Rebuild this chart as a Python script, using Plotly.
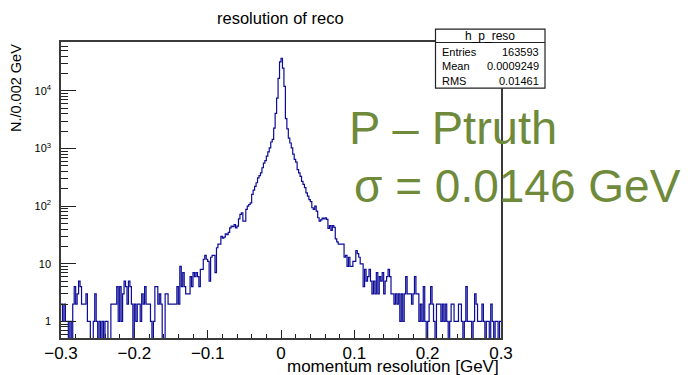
import numpy as np
import plotly.graph_objects as go

# ---------------- data (counts per 0.002 GeV bin, -0.3 .. 0.3) ----------------
x_min, x_max, bin_width = -0.3, 0.3, 0.002

counts_left = [  # bins 0-119  (-0.300 .. -0.062)
    2, 1, 2, 1, 1, 0, 1, 0, 2, 4, 2, 3, 5, 4, 2, 2, 2, 3, 1, 1,
    0, 0, 1, 3, 1, 0, 1, 0, 1, 0, 1, 1, 0, 0, 2, 2, 2, 2, 4, 1,
    4, 1, 3, 5, 4, 2, 5, 4, 2, 0, 2, 1, 2, 2, 1, 3, 2, 4, 2, 2,
    2, 1, 0, 1, 4, 4, 2, 3, 2, 0, 0, 3, 3, 2, 2, 2, 2, 2, 2, 4,
    2, 9, 4, 7, 4, 3, 3, 3, 6, 4, 7, 6, 7, 6, 4, 8, 8, 12, 14, 12,
    11, 5, 13, 14, 14, 7, 19, 22, 22, 30, 28, 29, 33, 32, 35, 42, 45, 44, 48, 42,
]
counts_core = [  # bins 120-179  (-0.060 .. 0.058)
    45, 60, 72, 77, 55, 55, 88, 100, 107, 114,
    160, 190, 220, 255, 310, 340, 380, 465, 560, 620,
    740, 880, 1030, 1300, 1450, 2260, 4100, 7500, 16500, 32000,
    37000, 25000, 12000, 3300, 2200, 1520, 1250, 1030, 800, 650,
    580, 430, 380, 330, 270, 240, 210, 170, 150, 130,
    120, 94, 88, 100, 82, 63, 55, 58, 62, 60,
]
counts_right = [  # bins 180-299  (0.060 .. 0.298)
    63, 59, 41, 46, 38, 46, 43, 27, 24, 22, 22, 22, 22, 13, 14, 9, 13, 9, 9, 11,
    11, 17, 15, 13, 10, 10, 4, 8, 5, 6, 8, 5, 3, 5, 3, 7, 3, 6, 5, 7,
    3, 5, 6, 8, 6, 3, 3, 2, 3, 2, 3, 1, 3, 1, 3, 6, 3, 3, 3, 2,
    3, 6, 3, 3, 1, 2, 1, 4, 1, 0, 1, 2, 4, 2, 1, 0, 2, 2, 2, 1,
    2, 1, 2, 1, 0, 1, 2, 2, 1, 1, 1, 2, 2, 1, 0, 1, 4, 1, 1, 1,
    0, 1, 3, 2, 1, 1, 1, 2, 1, 0, 1, 1, 0, 2, 1, 0, 1, 1, 0, 1,
]

y_tick_vals = [1, 10, 100, 1000, 10000]
y_tick_text = ["1", "10", "10<sup>2</sup>", "10<sup>3</sup>", "10<sup>4</sup>"]
x_tick_vals = [-0.3, -0.2, -0.1, 0, 0.1, 0.2, 0.3]
x_tick_text = ["\u22120.3", "\u22120.2", "\u22120.1", "0", "0.1", "0.2", "0.3"]

stats_name = "h_p_reso"
stats_rows = [("Entries", "163593"), ("Mean", "0.0009249"), ("RMS", "0.01461")]

# ---------------- build step outline ----------------
counts = np.array(counts_left + counts_core + counts_right, dtype=float)
edges = x_min + bin_width * np.arange(len(counts) + 1)
disp = np.where(counts > 0, counts, 1e-2)       # empty bins drop below the frame
step_x = edges
step_y = np.append(disp, disp[-1])

W, H = 693, 375
L, R, T, B = 61, 501, 42, 340          # plot frame in pixels
FONT = "Liberation Sans, Arial, Helvetica, sans-serif"


def px(xp):
    return (xp - L) / (R - L)


def py(yp):
    return (B - yp) / (B - T)


fig = go.Figure()
fig.add_trace(go.Scatter(
    x=step_x, y=step_y, mode="lines", line_shape="hv",
    line=dict(color="#0c0c98", width=1.2), hoverinfo="skip", showlegend=False,
))

minor_vals = [m * 10 ** d for d in range(-1, 5) for m in range(2, 10)]

fig.update_layout(
    width=W, height=H, autosize=False,
    margin=dict(l=L, r=W - R, t=T, b=H - B, pad=0),
    paper_bgcolor="white", plot_bgcolor="white",
    font=dict(family=FONT, color="black"),
    showlegend=False,
    xaxis=dict(
        range=[x_min, x_max], showgrid=False, zeroline=False,
        showline=True, mirror=True, linecolor="#3a3a3a", linewidth=1.5,
        ticks="inside", ticklen=8, tickwidth=1.2, tickcolor="#222",
        tickvals=x_tick_vals, ticktext=x_tick_text,
        tickfont=dict(size=17, family=FONT), ticklabelstandoff=-1,
        minor=dict(ticks="inside", ticklen=4, tickwidth=1, tickcolor="#222", dtick=0.02, tick0=-0.3, showgrid=False),
    ),
    yaxis=dict(
        type="log", range=[-0.288, 4.85], showgrid=False, zeroline=False,
        showline=True, mirror=True, linecolor="#3a3a3a", linewidth=1.5,
        ticks="inside", ticklen=15, tickwidth=1.2, tickcolor="#222",
        tickvals=y_tick_vals, ticktext=y_tick_text,
        tickfont=dict(size=11, family=FONT), ticklabelstandoff=6,
        minor=dict(ticks="inside", ticklen=7, tickwidth=1, tickcolor="#222",
                   tickvals=minor_vals, showgrid=False),
    ),
)

# title and axis titles (ROOT style placement)
fig.add_annotation(text="resolution of reco", xref="paper", yref="paper",
                   x=px(280), y=py(18), showarrow=False, xanchor="center", yanchor="middle",
                   font=dict(size=16.5, family=FONT))
fig.add_annotation(text="momentum resolution [GeV]", xref="paper", yref="paper",
                   x=px(501), y=py(369), showarrow=False, xanchor="right", yanchor="middle",
                   font=dict(size=17, family=FONT))
fig.add_annotation(text="N./0.002 GeV", xref="paper", yref="paper", textangle=-90,
                   x=px(16), y=py(42), showarrow=False, xanchor="center", yanchor="top",
                   font=dict(size=14.5, family=FONT))

# stats box
bx0, bx1, by0, by1, bhead = 435.5, 545, 29, 88.5, 42.5
fig.add_shape(type="rect", xref="paper", yref="paper", x0=px(bx0), x1=px(bx1), y0=py(by1), y1=py(by0),
              line=dict(color="#222", width=1.2), fillcolor="white", layer="above")
fig.add_shape(type="line", xref="paper", yref="paper", x0=px(bx0), x1=px(bx1), y0=py(bhead), y1=py(bhead),
              line=dict(color="#222", width=1.2), layer="above")
fig.add_annotation(text=stats_name, xref="paper", yref="paper", x=px((bx0 + bx1) / 2), y=py(35.5),
                   showarrow=False, xanchor="center", yanchor="middle", font=dict(size=12, family=FONT))
for k, (lab, val) in enumerate(stats_rows):
    yy = py(52 + 14.5 * k)
    fig.add_annotation(text=lab, xref="paper", yref="paper", x=px(440), y=yy, showarrow=False,
                       xanchor="left", yanchor="middle", font=dict(size=11, family=FONT))
    fig.add_annotation(text=val, xref="paper", yref="paper", x=px(541), y=yy, showarrow=False,
                       xanchor="right", yanchor="middle", font=dict(size=11, family=FONT))

# big overlay text
GREEN = "#6f8a3a"
fig.add_annotation(text="P \u2013 Ptruth", xref="paper", yref="paper", x=px(347), y=py(128),
                   showarrow=False, xanchor="left", yanchor="middle", font=dict(size=47, family=FONT, color=GREEN))
fig.add_annotation(text="\u03c3 = 0.0146 GeV", xref="paper", yref="paper", x=px(352), y=py(187),
                   showarrow=False, xanchor="left", yanchor="middle", font=dict(size=46, family=FONT, color=GREEN))

fig.write_html("out.html")
